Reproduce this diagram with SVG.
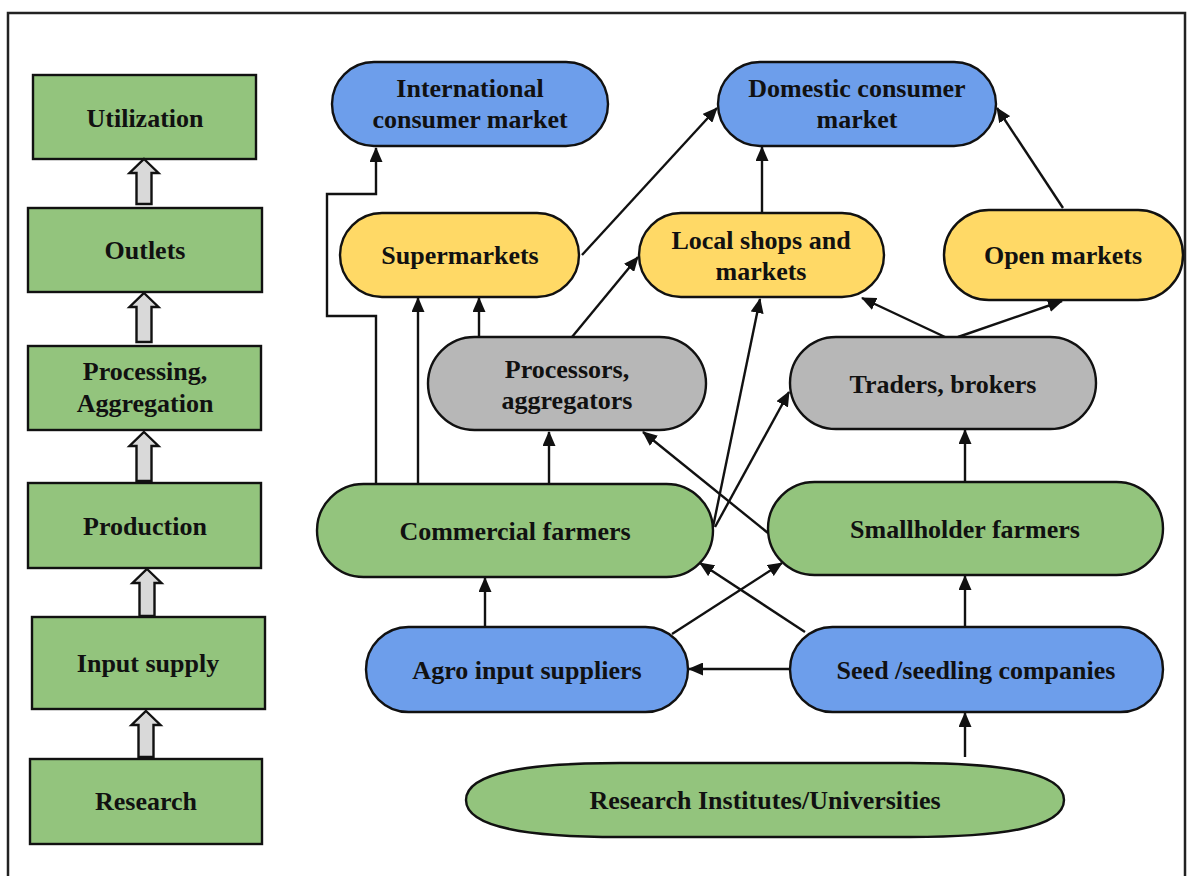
<svg xmlns="http://www.w3.org/2000/svg" width="1191" height="876" viewBox="0 0 1191 876">
<style>
text{font-family:"Liberation Serif","Times New Roman",serif;font-weight:bold;font-size:26px;fill:#111;text-anchor:middle}
.g{fill:#93c47d;stroke:#111;stroke-width:2.4}
.b{fill:#6d9eeb;stroke:#111;stroke-width:2.4}
.y{fill:#ffd966;stroke:#111;stroke-width:2.4}
.s{fill:#b7b7b7;stroke:#111;stroke-width:2.4}
.ba{fill:#d9d9d9;stroke:#111;stroke-width:2.4;stroke-linejoin:miter}
.c{fill:none;stroke:#111;stroke-width:2.4}
</style>
<defs>
<marker id="ah" markerUnits="userSpaceOnUse" markerWidth="15" markerHeight="13" refX="14" refY="6.5" orient="auto">
<path d="M0,0 L15,6.5 L0,13 Z" fill="#111"/>
</marker>
</defs>
<rect x="0" y="0" width="1191" height="876" fill="#fff"/>
<rect x="8" y="13" width="1177" height="880" fill="none" stroke="#222" stroke-width="2.5"/>

<g id="stages">
<g id="utilization"><rect class="g" x="33" y="75" width="223" height="84"/><text x="145" y="127">Utilization</text></g>
<g id="outlets"><rect class="g" x="28" y="208" width="234" height="84"/><text x="145" y="259">Outlets</text></g>
<g id="processing"><rect class="g" x="28" y="346" width="233" height="84"/><text x="145" y="380">Processing,</text><text x="145" y="412">Aggregation</text></g>
<g id="production"><rect class="g" x="28" y="483" width="233" height="85"/><text x="145" y="535">Production</text></g>
<g id="inputsupply"><rect class="g" x="32" y="617" width="233" height="92"/><text x="148" y="672">Input supply</text></g>
<g id="research"><rect class="g" x="30" y="759" width="232" height="85"/><text x="146" y="810">Research</text></g>
</g>

<g id="stage-arrows">
<polygon class="ba" points="144,159 158.5,173 151.5,173 151.5,204 136.5,204 136.5,173 129.5,173"/>
<polygon class="ba" points="144,293 158.5,307 151.5,307 151.5,342 136.5,342 136.5,307 129.5,307"/>
<polygon class="ba" points="144,432 158.5,446 151.5,446 151.5,481 136.5,481 136.5,446 129.5,446"/>
<polygon class="ba" points="147,569 161.5,583 154.5,583 154.5,616 139.5,616 139.5,583 132.5,583"/>
<polygon class="ba" points="146,711 160.5,725 153.5,725 153.5,757 138.5,757 138.5,725 131.5,725"/>
</g>

<g id="connectors">
<path class="c" d="M376,484 V316 H327 V194 H376 V148" marker-end="url(#ah)"/>
<path class="c" d="M418,484 V298" marker-end="url(#ah)"/>
<path class="c" d="M479,337 V298" marker-end="url(#ah)"/>
<path class="c" d="M582,255 L717,108" marker-end="url(#ah)"/>
<path class="c" d="M572,337 L638,257" marker-end="url(#ah)"/>
<path class="c" d="M762,213 V147" marker-end="url(#ah)"/>
<path class="c" d="M1063,208 L997,108" marker-end="url(#ah)"/>
<path class="c" d="M945,337 L862,298" marker-end="url(#ah)"/>
<path class="c" d="M958,337 L1062,301" marker-end="url(#ah)"/>
<path class="c" d="M713,527 L760,299" marker-end="url(#ah)"/>
<path class="c" d="M715,527 L789,392" marker-end="url(#ah)"/>
<path class="c" d="M549,484 V432" marker-end="url(#ah)"/>
<path class="c" d="M768,533 L643,432" marker-end="url(#ah)"/>
<path class="c" d="M965,482 V430" marker-end="url(#ah)"/>
<path class="c" d="M485,627 V578" marker-end="url(#ah)"/>
<path class="c" d="M672,634 L782,563" marker-end="url(#ah)"/>
<path class="c" d="M805,632 L700,563" marker-end="url(#ah)"/>
<path class="c" d="M790,669 H689" marker-end="url(#ah)"/>
<path class="c" d="M965,627 V576" marker-end="url(#ah)"/>
<path class="c" d="M965,757 V713" marker-end="url(#ah)"/>
</g>

<g id="intl"><rect class="b" x="332" y="62" width="276" height="84" rx="42"/><text x="470" y="97">International</text><text x="470" y="128">consumer market</text></g>
<g id="domestic"><rect class="b" x="718" y="62" width="278" height="84" rx="42"/><text x="857" y="97">Domestic consumer</text><text x="857" y="128">market</text></g>
<g id="supermarkets"><rect class="y" x="340" y="213" width="239" height="84" rx="42"/><text x="460" y="264">Supermarkets</text></g>
<g id="localshops"><rect class="y" x="639" y="213" width="245" height="84" rx="42"/><text x="761" y="249">Local shops and</text><text x="761" y="280">markets</text></g>
<g id="openmarkets"><rect class="y" x="944" y="210" width="239" height="90" rx="45"/><text x="1063" y="264">Open markets</text></g>
<g id="processors"><rect class="s" x="428" y="337" width="278" height="93" rx="46.5"/><text x="567" y="378">Processors,</text><text x="567" y="409">aggregators</text></g>
<g id="traders"><rect class="s" x="790" y="337" width="306" height="92" rx="46"/><text x="943" y="393">Traders, brokers</text></g>
<g id="commercial"><rect class="g" x="317" y="484" width="396" height="93" rx="46.5"/><text x="515" y="540">Commercial farmers</text></g>
<g id="smallholder"><rect class="g" x="768" y="482" width="395" height="93" rx="46.5"/><text x="965" y="538">Smallholder farmers</text></g>
<g id="agro"><rect class="b" x="366" y="627" width="322" height="85" rx="42.5"/><text x="527" y="679">Agro input suppliers</text></g>
<g id="seed"><rect class="b" x="790" y="627" width="373" height="85" rx="42.5"/><text x="976" y="679">Seed /seedling companies</text></g>
<g id="institutes"><path class="g" d="M466,800 C466,772 530,763 620,763 H910 C1000,763 1064,772 1064,800 C1064,828 1000,837 910,837 H620 C530,837 466,828 466,800 Z"/><text x="765" y="809">Research Institutes/Universities</text></g>
</svg>
